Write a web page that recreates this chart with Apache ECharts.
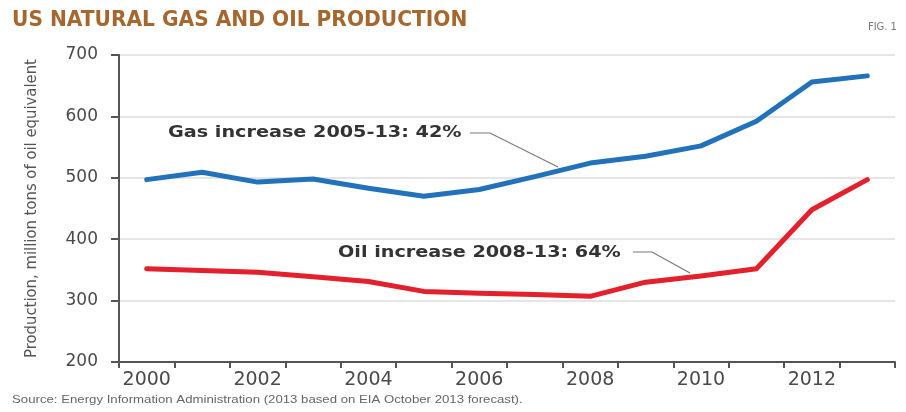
<!DOCTYPE html>
<html>
<head>
<meta charset="utf-8">
<script src="https://cdn.jsdelivr.net/npm/echarts@6/dist/echarts.min.js"></script>
<style>
html,body{margin:0;padding:0;background:#fff;}
#chart{width:906px;height:412px;}
</style>
</head>
<body>
<div id="chart"></div>
<script>
const years = ['2000','2001','2002','2003','2004','2005','2006','2007','2008','2009','2010','2011','2012','2013'];
const gasValues = [497, 509, 493, 498, 483, 470, 481, 502, 524, 535, 552, 592, 656, 666];
const oilValues = [352, 349, 346, 339, 331, 315, 312, 310, 307, 330, 340, 352, 448, 497];
const yTicks = [200, 300, 400, 500, 600, 700];

const chart = echarts.init(document.getElementById('chart'));
const option = {
  backgroundColor: '#ffffff',
  animation: false,
  grid: { left: 119, right: 11, top: 55, bottom: 50 },
  xAxis: {
    type: 'category',
    data: years,
    boundaryGap: true,
    axisLine: { lineStyle: { color: '#555', width: 2 } },
    axisTick: { show: true, length: 6, lineStyle: { color: '#555', width: 2 }, interval: 0 },
    axisLabel: { interval: 1, color: '#4a4a4a', fontFamily: 'DejaVu Sans', fontSize: 19, margin: 9 },
    splitLine: { show: false }
  },
  yAxis: {
    type: 'value',
    min: yTicks[0],
    max: yTicks[yTicks.length - 1],
    interval: 100,
    name: 'Production, million tons of oil equivalent',
    nameLocation: 'middle',
    nameGap: 79,
    nameRotate: 90,
    nameTextStyle: { color: '#555', fontFamily: 'DejaVu Sans Condensed, sans-serif', fontSize: 16.5 },
    axisLine: { show: true, lineStyle: { color: '#555', width: 2 } },
    axisTick: { show: true, length: 8, lineStyle: { color: '#555', width: 2 } },
    axisLabel: { color: '#4a4a4a', fontFamily: 'DejaVu Sans', fontSize: 17, margin: 21 },
    splitLine: { show: true, lineStyle: { color: '#dddddd', width: 1.5 } }
  },
  series: [
    {
      name: 'Gas', type: 'line', data: gasValues, symbol: 'none',
      lineStyle: { color: '#2272bb', width: 5, cap: 'round', join: 'round' }
    },
    {
      name: 'Oil', type: 'line', data: oilValues, symbol: 'none',
      lineStyle: { color: '#e3202b', width: 5, cap: 'round', join: 'round' }
    }
  ],
  graphic: [
    { type: 'text', x: 12, y: 9, scaleX: 1.02, style: { text: 'US NATURAL GAS AND OIL PRODUCTION', fill: '#a5672d', font: 'bold 22px "DejaVu Sans Condensed", sans-serif' } },
    { type: 'text', x: 868, y: 22, style: { text: 'FIG. 1', fill: '#777', font: '11px "DejaVu Sans Condensed", sans-serif' } },
    { type: 'text', x: 12, y: 394, scaleX: 1.2, style: { text: 'Source: Energy Information Administration (2013 based on EIA October 2013 forecast).', fill: '#666', font: '11px "Liberation Sans", sans-serif' } },
    { type: 'text', x: 168, y: 133, scaleX: 1.2, style: { text: 'Gas increase 2005-13: 42%', fill: '#333', font: 'bold 16px "DejaVu Sans", sans-serif', verticalAlign: 'middle' } },
    { type: 'polyline', shape: { points: [[470, 133], [490, 133], [558, 167]] }, style: { stroke: '#777', lineWidth: 1.2, fill: null } },
    { type: 'text', x: 338, y: 253, scaleX: 1.2, style: { text: 'Oil increase 2008-13: 64%', fill: '#333', font: 'bold 16px "DejaVu Sans", sans-serif', verticalAlign: 'middle' } },
    { type: 'polyline', shape: { points: [[633, 252], [652, 252], [690, 273]] }, style: { stroke: '#777', lineWidth: 1.2, fill: null } }
  ]
};
chart.setOption(option);
</script>
</body>
</html>
